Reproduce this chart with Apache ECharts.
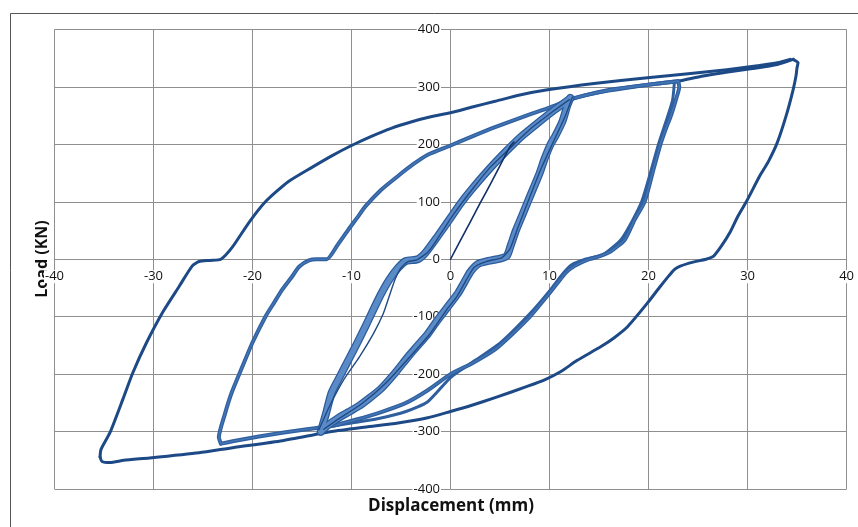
<!DOCTYPE html>
<html>
<head>
<meta charset="utf-8">
<script src="https://cdn.jsdelivr.net/npm/echarts@6/dist/echarts.min.js"></script>
<style>
html,body{margin:0;padding:0;background:#fff;}
#chart{width:858px;height:527px;}
</style>
</head>
<body>
<div id="chart"></div>
<script>
// Axis ranges / tick spacing
const xRange = [-40, 40, 10];
const yRange = [-400, 400, 100];

// Initial monotonic loading (thin dark line)
const initialLoad = [[0,0],[1,33],[2,65],[3,98],[4,130],[5,163],[6,196],[6.4,204]];

// Small cycles (~ +/-12 mm)
const smallUnload = [[12.1,281],[11.8,268],[11.3,240],[10.6,215],[10.1,200],[9.5,175],[9,150],[8.4,125],[7.8,100],[7.2,75],[6.6,50],[6.1,25],[5.7,6],[5,1],[3.8,-3],[2.8,-8],[2,-22],[1.4,-40],[0.8,-58],[0.2,-72],[-0.6,-90],[-1.4,-108],[-2.3,-130],[-3.3,-150],[-4.3,-170],[-5.6,-198],[-7,-225],[-8.2,-242],[-9.3,-256],[-10.3,-266],[-11.3,-276],[-12.3,-288],[-13.1,-300]];
const smallReload = [[-13.1,-300],[-12.6,-270],[-12,-232],[-11.2,-205],[-10.3,-175],[-9.4,-145],[-8.6,-117],[-7.8,-88],[-7,-60],[-6.2,-36],[-5.3,-15],[-4.5,-3],[-3.3,0],[-2.5,12],[-1.3,40],[0,72],[1,97],[2.1,121],[3.8,155],[5.5,186],[7.1,213],[8.8,237],[10.5,260],[12.1,280]];
const smallUnloadB = [[12.3,282],[11.6,250],[10.4,205],[9.2,160],[8,108],[6.8,55],[6,18],[5.2,3],[3.6,-4],[2.4,-14],[1.6,-36],[0.6,-66],[-0.4,-88],[-2,-128],[-4,-168],[-6.5,-215],[-9,-252],[-11.5,-280],[-12.8,-296]];
const smallReloadB = [[-13.3,-297],[-12.2,-255],[-10.8,-210],[-9.2,-170],[-7.8,-130],[-6.8,-95],[-6.2,-65],[-5.6,-35],[-5,-15],[-4.3,-4],[-3.4,-1],[-2.2,14],[-1,44],[0.3,78],[2.3,124],[4,160],[5.8,190],[8,226],[10.4,258],[12,278]];

// Second cycle (~ +/-23 mm)
const c2Load = [[12.1,279],[14,287],[16.1,294],[18,299],[20,304],[22,308],[23,310]];
const c2Unload = [[23,310],[23.1,300],[22.8,280],[22.3,252],[21.7,225],[21.2,200],[20.4,150],[19.6,100],[18.6,69],[17.6,34],[16.2,14],[15,5],[14,0],[12.5,-12],[11.6,-24],[11.1,-35],[10.5,-48],[9.8,-63],[8.8,-84],[7.8,-104],[6.2,-131],[4.5,-157],[2.2,-181],[0,-200],[-2.3,-228],[-4.5,-250],[-7,-266],[-9.5,-279],[-12,-290],[-14.5,-296],[-17,-302],[-19.5,-309],[-22,-317],[-23.2,-321]];
const c2Unload2 = [[22.6,306],[22.4,275],[21,200],[19.3,100],[17.3,36],[15.4,8],[13.6,0],[12.2,-10],[11.3,-26],[10,-55],[8,-95],[5,-146],[2.5,-176],[0,-206],[-2.3,-248],[-4.5,-265],[-7.5,-278],[-10,-285],[-12.3,-292]];
const c2Reload = [[-23.2,-321],[-23.4,-310],[-22.8,-270],[-22.1,-232],[-21,-186],[-20,-145],[-18.7,-100],[-17.8,-75],[-17,-53],[-16,-30],[-15.3,-13],[-14.3,-2],[-13.5,0],[-12.5,0],[-11.4,25],[-10.3,52],[-9.4,73],[-8.6,92],[-7,121],[-5.3,145],[-3.8,165],[-2.3,182],[0,198],[2.2,214],[4.5,230],[7.8,251],[10,264],[12.1,278],[14,287],[16.1,295],[20,304],[23,310]];

// Third cycle (~ +/-35 mm)
const c3Load = [[23,310],[25.5,319],[28,326],[30.5,332],[33,339],[34.6,348]];
const c3Unload = [[34.6,348],[35.1,342],[35,334],[34.9,320],[34.6,295],[33.9,250],[33,203],[32.1,170],[31.2,144],[29.9,101],[29,74],[28.2,46],[27.4,24],[26.6,6],[25.8,0],[24.5,-5],[23.2,-12],[22.6,-18],[21.9,-32],[21.2,-47],[19.9,-76],[17.9,-117],[16.5,-137],[15.2,-152],[12.8,-176],[11.1,-196],[9.5,-210],[7.8,-221],[4.5,-241],[2,-255],[0,-265],[-2.3,-276],[-5.3,-285],[-8.5,-292],[-12,-300],[-17,-316],[-22,-328],[-25.4,-337],[-30.4,-346],[-33,-350],[-34.4,-354],[-35.2,-352],[-35.4,-344]];
const c3Reload = [[-35.4,-344],[-35.3,-331],[-34.4,-302],[-33.1,-244],[-32.1,-198],[-30.7,-145],[-29.1,-93],[-27.4,-47],[-26.1,-12],[-25.4,-4],[-24.3,-2],[-23.2,0],[-22,22],[-20.4,63],[-18.7,100],[-16.4,135],[-14,160],[-12,180],[-10,198],[-8,214],[-6,228],[-4,239],[-2,248],[0,255],[2.2,265],[4.5,275],[7,286],[9.8,295],[14.5,306],[19.9,316],[24,323],[27.9,330],[31,337],[33,342],[34.3,348]];

const DARK = '#1d4a86';
const MID = '#2f5f9f';
const MIDCORE = '#4273b3';
const LIGHTEDGE = '#2c5c9c';
const LIGHT = '#5a8bc7';

function ser(data, color, width, z) {
  return {type:'line', data:data, showSymbol:false, symbol:'none', z:z||2, smooth:0.2,
    lineStyle:{color:color, width:width, join:'round', cap:'round'}, silent:true};
}

const series = [
  ser(c3Load, DARK, 3), ser(c3Unload, DARK, 3), ser(c3Reload, DARK, 3),
  ser(c2Load, MID, 4), ser(c2Unload, MID, 4), ser(c2Unload2, MID, 3), ser(c2Reload, MID, 4),
  ser(c2Load, MIDCORE, 1.6, 3), ser(c2Unload, MIDCORE, 1.6, 3), ser(c2Reload, MIDCORE, 1.6, 3),
  ser(smallUnload, LIGHTEDGE, 8, 4), ser(smallReload, LIGHTEDGE, 8, 4),
  ser(smallUnload, LIGHT, 5.5, 5), ser(smallReload, LIGHT, 5.5, 5),
  ser(smallUnloadB, '#1f4a86', 1.4, 6), ser(smallReloadB, '#1f4a86', 1.4, 6),
  ser(initialLoad, '#12306a', 1.6, 7)
];

const gridColor = '#8f8f8f';
const lblFont = 'Open Sans';
const gLeft = 54.5, gRight = 8.5, gTop = 29.5, gBottom = 38;
const W = 858, H = 527;
const zeroX = gLeft + (W - gLeft - gRight) / 2;
const zeroY = gTop + (H - gTop - gBottom) / 2;

const chart = echarts.init(document.getElementById('chart'));
chart.setOption({
  animation:false,
  backgroundColor:'#fff',
  grid:{left:gLeft, right:gRight, top:gTop, bottom:gBottom, containLabel:false},
  xAxis:{type:'value', min:xRange[0], max:xRange[1], interval:xRange[2],
    position:'bottom', offset:-(H - gBottom - zeroY),
    axisLine:{show:false, onZero:false},
    axisTick:{show:false},
    axisLabel:{margin:11, fontSize:13, fontFamily:lblFont, color:'#111', backgroundColor:'#fff', padding:[0,1]},
    splitLine:{show:true, lineStyle:{color:gridColor, width:1}}},
  yAxis:{type:'value', min:yRange[0], max:yRange[1], interval:yRange[2],
    position:'left', offset:-(zeroX - gLeft),
    axisLine:{show:false, onZero:false},
    axisTick:{show:false},
    axisLabel:{margin:11, fontSize:13, fontFamily:lblFont, color:'#111', backgroundColor:'#fff', padding:[0,1]},
    splitLine:{show:true, lineStyle:{color:gridColor, width:1}}},
  graphic:[
    {type:'polyline', shape:{points:[[10.5,527],[10.5,13.5],[858,13.5]]}, style:{stroke:'#555', lineWidth:1, fill:null}, z:0},
    {type:'text', x:42, y:259, rotation:Math.PI/2, z:0, style:{text:'Load (KN)', font:'bold 16px "Open Sans"', fill:'#111', textAlign:'center', textVerticalAlign:'middle'}},
    {type:'text', x:451, y:506, style:{text:'Displacement (mm)', font:'bold 17px "Open Sans"', fill:'#111', textAlign:'center', textVerticalAlign:'middle'}}
  ],
  series:series
});
</script>
</body>
</html>
